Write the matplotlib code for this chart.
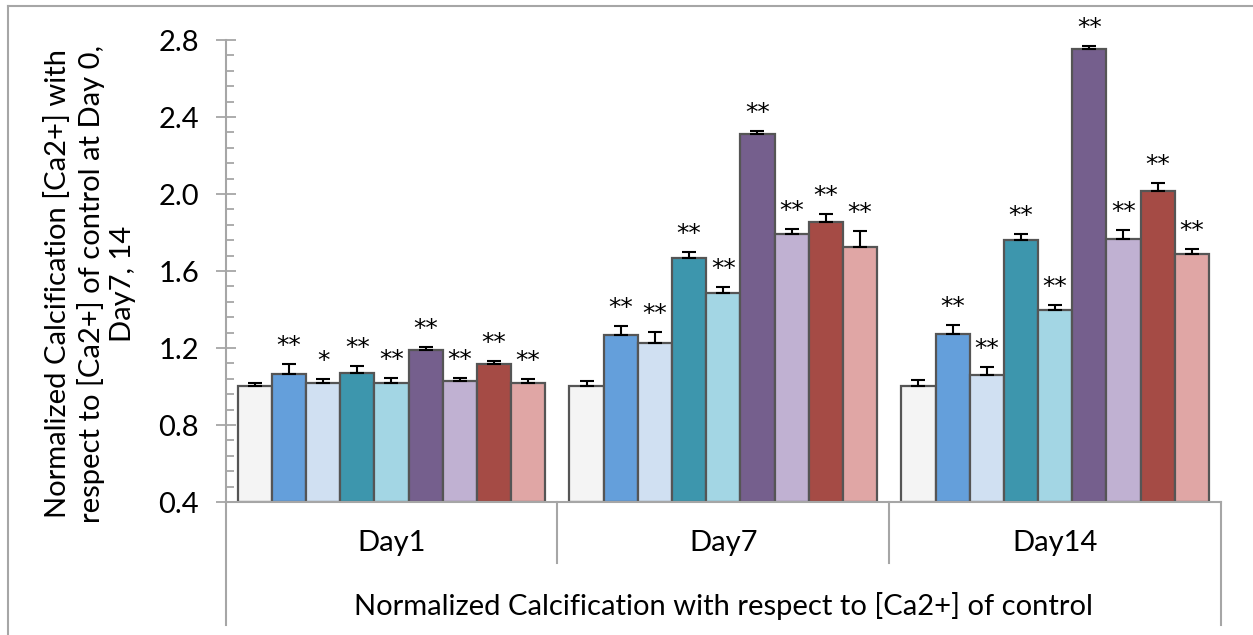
import matplotlib.pyplot as plt
import numpy as np
from matplotlib.lines import Line2D
from matplotlib.ticker import MultipleLocator, FormatStrFormatter

plt.rcParams['font.family'] = ['Lato', 'DejaVu Sans']

days = ["Day1", "Day7", "Day14"]

# one list per day, nine samples each (sample 1 is the control)
day1_mean = [1.003, 1.065, 1.017, 1.072, 1.020, 1.190, 1.029, 1.115, 1.017]
day1_err = [0.014, 0.050, 0.020, 0.033, 0.024, 0.017, 0.017, 0.019, 0.023]
day7_mean = [1.003, 1.268, 1.228, 1.669, 1.484, 2.312, 1.791, 1.856, 1.725]
day7_err = [0.026, 0.045, 0.055, 0.031, 0.035, 0.017, 0.027, 0.040, 0.081]
day14_mean = [1.003, 1.274, 1.058, 1.763, 1.400, 2.755, 1.768, 2.014, 1.687]
day14_err = [0.029, 0.047, 0.043, 0.031, 0.023, 0.012, 0.045, 0.041, 0.026]

day1_sig = ["", "**", "*", "**", "**", "**", "**", "**", "**"]
day7_sig = ["", "**", "**", "**", "**", "**", "**", "**", "**"]
day14_sig = ["", "**", "**", "**", "**", "**", "**", "**", "**"]

colors = ["#F4F4F4", "#649FDB", "#D0E0F2", "#3D96AD", "#A3D6E4",
          "#755F8D", "#C0B1D2", "#A54B45", "#E0A6A5"]

means = np.array([day1_mean, day7_mean, day14_mean])
errs = np.array([day1_err, day7_err, day14_err])
sigs = [day1_sig, day7_sig, day14_sig]

fs = 21

fig = plt.figure(figsize=(12.53, 6.35), dpi=100)
ax = fig.add_axes([0.180, 0.2094, 0.7945, 0.7276])

n = means.shape[1]
w = 0.103
x = np.arange(len(days))
for i in range(n):
    pos = x + (i - (n - 1) / 2) * w
    ax.bar(pos, means[:, i] - 0.4, w, bottom=0.4, color=colors[i],
           edgecolor="#555555", linewidth=1.6, zorder=2)
    ax.errorbar(pos, means[:, i], yerr=[np.zeros(len(days)), errs[:, i]],
                fmt="none", ecolor="black", elinewidth=1.5, capsize=5,
                capthick=1.5, zorder=3)
    for j in range(len(days)):
        if sigs[j][i]:
            ax.annotate(sigs[j][i], (pos[j], means[j, i] + errs[j, i]),
                        xytext=(0, 8), textcoords="offset points",
                        ha="center", va="baseline", fontsize=18,
                        family="DejaVu Sans", annotation_clip=False)

ax.set_xlim(-0.5, 2.5)
ax.set_ylim(0.4, 2.8)
ax.yaxis.set_major_locator(MultipleLocator(0.4))
ax.yaxis.set_minor_locator(MultipleLocator(0.08))
ax.yaxis.set_major_formatter(FormatStrFormatter("%.1f"))
ax.tick_params(axis="y", which="major", direction="inout", length=14,
               width=1.3, color="#A6A6A6", labelsize=fs, pad=12)
ax.tick_params(axis="y", which="minor", direction="in", length=6,
               width=1.3, color="#A6A6A6")
ax.set_xticks([])
for side in ["top", "right"]:
    ax.spines[side].set_visible(False)
for side in ["left", "bottom"]:
    ax.spines[side].set_color("#A6A6A6")
    ax.spines[side].set_linewidth(1.5)

# category table under the bars
trans = ax.get_xaxis_transform()
for xb in [0.5, 1.5]:
    ax.add_line(Line2D([xb, xb], [0, -0.132], transform=trans, color="#A6A6A6",
                       linewidth=1.5, clip_on=False))
for xb in [-0.5, 2.5]:
    ax.add_line(Line2D([xb, xb], [0, -0.266], transform=trans, color="#A6A6A6",
                       linewidth=1.5, clip_on=False))
for j, d in enumerate(days):
    ax.text(x[j], -0.089, d, transform=trans, ha="center", va="center",
            fontsize=fs)
ax.text(1, -0.225, "Normalized Calcification with respect to [Ca2+] of control",
        transform=trans, ha="center", va="center", fontsize=fs)

fig.text(0.072, 0.553,
         "Normalized Calcification [Ca2+] with\n"
         "respect to [Ca2+] of control at Day 0,\n"
         "Day7, 14",
         rotation=90, ha="center", va="center", fontsize=fs, linespacing=1.25,
         multialignment="center")

# chart area border
fig.add_artist(Line2D([7.5 / 1253, 7.5 / 1253], [0, 1 - 6 / 635],
                      transform=fig.transFigure, color="#A6A6A6", linewidth=1.5))
fig.add_artist(Line2D([7.5 / 1253, 1], [1 - 6 / 635, 1 - 6 / 635],
                      transform=fig.transFigure, color="#A6A6A6", linewidth=1.5))

fig.savefig("out.png", dpi=100)
